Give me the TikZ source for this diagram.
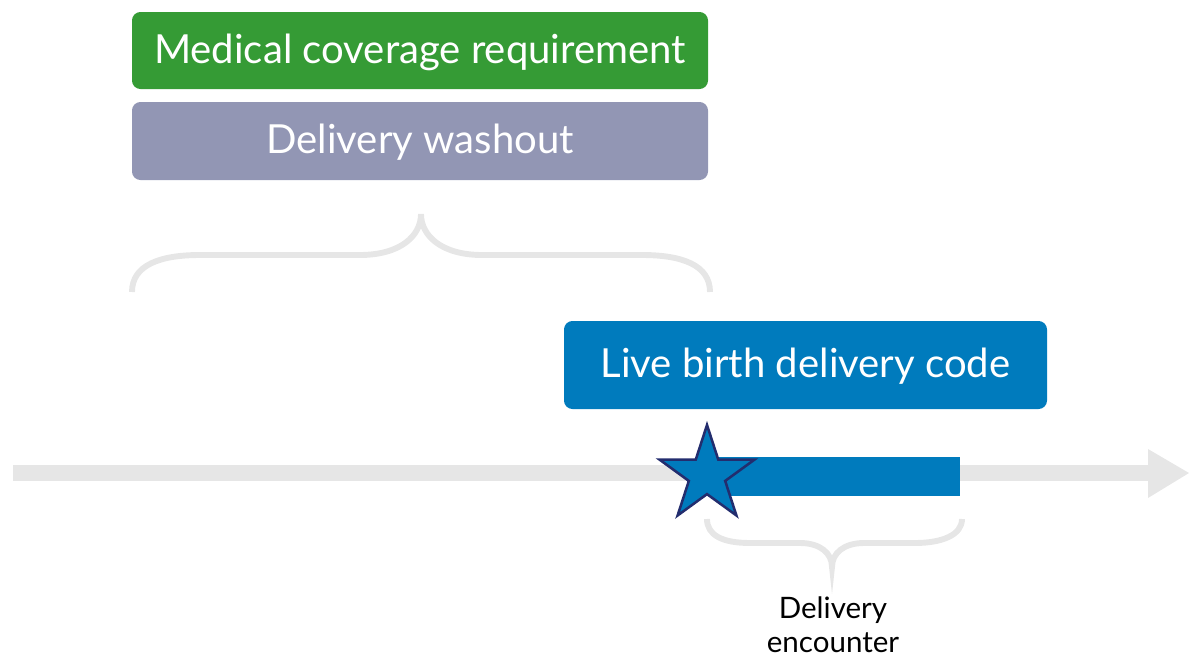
\documentclass[tikz,border=0pt]{standalone}
\usepackage{fontspec}
\setmainfont{Lato}
\usepackage{tikz}
\usetikzlibrary{shapes.geometric}
\definecolor{covgreen}{RGB}{53,155,53}
\definecolor{washgray}{RGB}{146,150,180}
\definecolor{codeblue}{RGB}{0,123,189}
\definecolor{lightg}{RGB}{230,230,230}
\definecolor{starline}{RGB}{35,45,110}

\begin{document}
\begin{tikzpicture}[x=0.025cm, y=-0.025cm,
    boxtext/.style={text=white, font=\fontsize{28.5}{34}\selectfont},
    brace/.style={draw=lightg, line width=4.2pt}]
  \useasboundingbox (0,0) rectangle (1189,658);
  % boxes on top
  \fill [covgreen, rounded corners=6pt] (132,12) rectangle (708,89) node (cover) [pos=.5, yshift=-1pt, boxtext] {Medical coverage requirement};
  \fill [washgray, rounded corners=6pt] (132,102) rectangle (708,180) node (washout) [pos=.5, yshift=-1pt, boxtext] {Delivery washout};
  \fill [codeblue, rounded corners=6pt] (564,321) rectangle (1047,409) node (code) [pos=.5, yshift=-1pt, boxtext] {Live birth delivery code};
  % washout brace
  \coordinate (wl) at (132,292);
  \coordinate (wt) at (421,214);
  \coordinate (wr) at (710,292);
  \draw [brace] (wl) .. controls (132,265) and (160,255) .. (200,255) -- (360,255)
        .. controls (400,255) and (421,236) .. (wt)
        .. controls (421,236) and (442,255) .. (482,255) -- (642,255)
        .. controls (682,255) and (710,265) .. (wr);
  % time line
  \coordinate (tstart) at (13,473);
  \coordinate (tend) at (1150,473);
  \draw [lightg, line width=11.3pt] (tstart) -- (tend);
  \fill [lightg] (1148,449) -- (1189,473) -- (1148,498) -- cycle;
  \fill [codeblue] (715,457) rectangle (960,496) node (enc) [pos=.5] {};
  \node (star) [star, star points=5, star point ratio=2.618, minimum size=2.5cm, inner sep=0pt,
        fill=codeblue, draw=starline, line width=1.8pt] at (707,475) {};
  % encounter brace
  \coordinate (el) at (707,519);
  \coordinate (eb) at (832,567);
  \coordinate (er) at (962,519);
  \draw [brace] (el) .. controls (707,535) and (722,543) .. (750,543) -- (800,543)
        .. controls (820,543) and (832,553) .. (eb)
        .. controls (832,553) and (844,543) .. (864,543) -- (915,543)
        .. controls (942,543) and (962,535) .. (er);
  \node (enclabel) [align=center, inner sep=1pt, font=\fontsize{21}{24}\selectfont] at (833,625) {Delivery\\encounter};
\end{tikzpicture}
\end{document}
